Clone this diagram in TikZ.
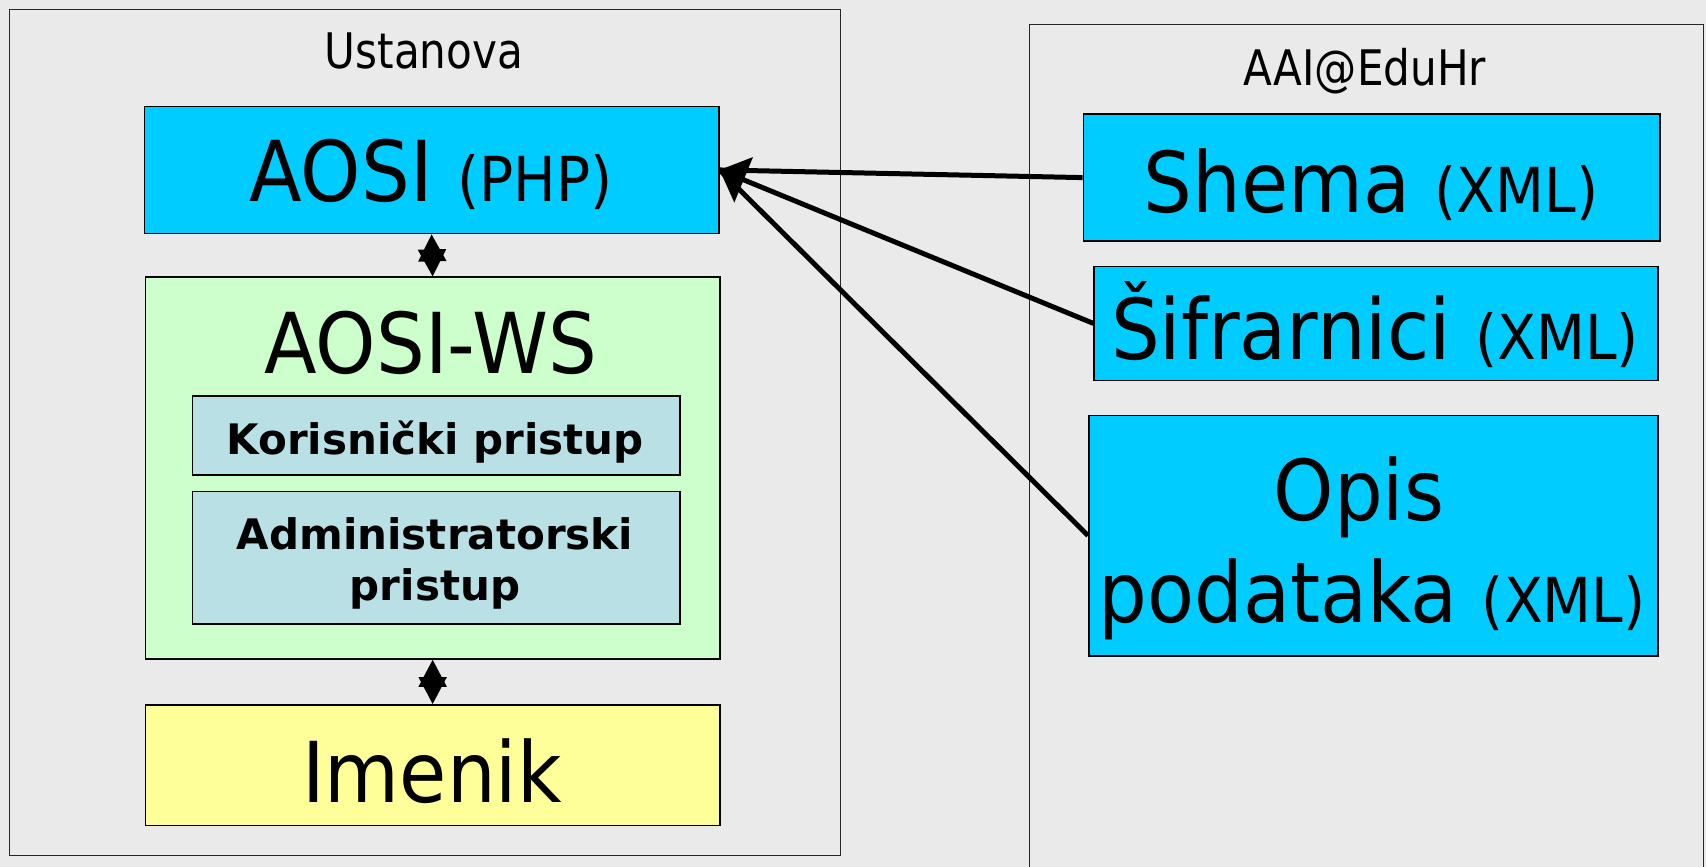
\documentclass[tikz,border=0pt]{standalone}
\usepackage{fontspec}
\setmainfont{DejaVu Sans}[FakeStretch=0.915]
\newfontfamily\titleface{DejaVu Sans}[FakeStretch=0.86]
\newfontfamily\wideface{DejaVu Sans}
\usetikzlibrary{arrows.meta}
\definecolor{bg}{HTML}{EAEAEA}
\definecolor{aosiblue}{HTML}{00CCFF}
\definecolor{wsgreen}{HTML}{CCFFCC}
\definecolor{accbox}{HTML}{B9E0E4}
\definecolor{imyellow}{HTML}{FFFF99}
\newcommand{\bigT}{\fontsize{84}{90}\selectfont}
\newcommand{\smallT}{\fontsize{62}{70}\selectfont}
\begin{document}
\begin{tikzpicture}[x=1pt,y=-1pt,
  box/.style={draw=black, line width=1.6pt, inner sep=0pt, anchor=north west},
  frame/.style={draw=black!85, line width=1.4pt, inner sep=0pt, anchor=north west},
  txt/.style={anchor=base, inner sep=0pt},
  title/.style={txt, font=\titleface\fontsize{49}{56}\selectfont},
  boldtxt/.style={txt, font=\wideface\bfseries\fontsize{42}{48}\selectfont},
  conn/.style={line width=5pt},
  connhead/.style={conn, -{Triangle[length=26pt,width=48pt]}},
  dbl/.style={line width=2pt, {Triangle[length=27pt,width=28pt]}-{Triangle[length=27pt,width=28pt]}}]
\fill[bg] (0,0) rectangle (1706,867);
\useasboundingbox (0,0) rectangle (1706,867);
% frames
\node[frame, minimum width=831pt, minimum height=846pt] (ustanova) at (8.7,8.7) {};
\node[frame, minimum width=674pt, minimum height=860pt] (aai) at (1029,24) {};
\node[title] (ustT) at (424,68.5) {Ustanova};
\node[title] (aaiT) at (1365,85) {AAI@EduHr};
% left boxes
\node[box, fill=aosiblue, minimum width=574.4pt, minimum height=127.3pt] (aosi) at (143.6,105.5) {};
\node[box, fill=wsgreen, minimum width=574.3pt, minimum height=381.8pt] (ws) at (144.7,276.4) {};
\node[box, fill=accbox, minimum width=487.5pt, minimum height=79.4pt] (kor) at (191.5,395) {};
\node[box, fill=accbox, minimum width=487.5pt, minimum height=132.7pt] (adm) at (191.5,490.7) {};
\node[box, fill=imyellow, minimum width=574.3pt, minimum height=120.7pt] (imenik) at (144.7,704) {};
% right boxes
\node[box, fill=aosiblue, minimum width=576.6pt, minimum height=127.2pt] (shema) at (1082.6,113.2) {};
\node[box, fill=aosiblue, minimum width=563.6pt, minimum height=114.2pt] (sif) at (1093.4,265.5) {};
\node[box, fill=aosiblue, minimum width=569pt, minimum height=240.5pt] (opis) at (1088,414.5) {};
% texts
\node[txt] (aosiT) at (431,201) {\bigT AOSI \smallT(PHP)};
\node[txt] (wsT) at (431,373) {\bigT AOSI-WS};
\node[boldtxt] (korT) at (435,454) {Korisnički pristup};
\node[boldtxt] (admT1) at (435,549) {Administratorski};
\node[boldtxt] (admT2) at (435,600) {pristup};
\node[txt] (imT) at (432,802) {\bigT Imenik};
\node[txt] (shemaT) at (1371,212) {\bigT Shema \smallT(XML)};
\node[txt] (sifT) at (1375,359) {\bigT Šifrarnici \smallT(XML)};
\node[txt] (opisT1) at (1359,520) {\bigT Opis};
\node[txt] (opisT2) at (1372,622) {\bigT podataka \smallT(XML)};
% connectors
\draw[dbl] (aosi.south) -- (ws.north);
\draw[dbl] (ws.south) -- (imenik.north);
\draw[conn] (shema.west) -- (aosi.east);
\draw[conn] (opis.west) -- (aosi.east);
\draw[connhead] (sif.west) -- (aosi.east);
\end{tikzpicture}
\end{document}
